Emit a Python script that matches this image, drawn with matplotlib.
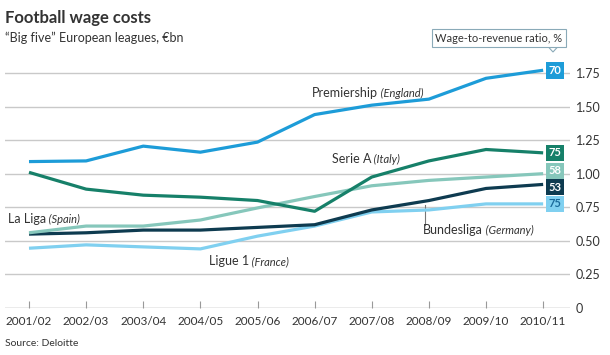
import matplotlib.pyplot as plt
from matplotlib.patches import Polygon

plt.rcParams['font.family'] = ['Lato', 'DejaVu Sans']

seasons = ["2001/02", "2002/03", "2003/04", "2004/05", "2005/06",
           "2006/07", "2007/08", "2008/09", "2009/10", "2010/11"]

premiership = [1.09, 1.095, 1.205, 1.16, 1.235, 1.44, 1.51, 1.555, 1.71, 1.77]
serie_a = [1.01, 0.885, 0.84, 0.825, 0.80, 0.72, 0.975, 1.095, 1.18, 1.155]
la_liga = [0.56, 0.61, 0.61, 0.655, 0.745, 0.83, 0.91, 0.95, 0.975, 1.0]
bundesliga = [0.55, 0.56, 0.58, 0.58, 0.60, 0.62, 0.73, 0.80, 0.89, 0.92]
ligue_1 = [0.445, 0.47, 0.455, 0.44, 0.535, 0.61, 0.715, 0.73, 0.775, 0.775]

ratios = {"premiership": "70", "serie_a": "75", "la_liga": "58",
          "bundesliga": "53", "ligue_1": "75"}

yticks = [0, 0.25, 0.5, 0.75, 1.0, 1.25, 1.5, 1.75]
ytick_labels = ["0", "0.25", "0.50", "0.75", "1.00", "1.25", "1.50", "1.75"]

c_prem = "#1d9cd8"
c_seri = "#168069"
c_liga = "#86c7bb"
c_bund = "#0e3b50"
c_lig1 = "#80d0f0"
txt = "#333333"
grid = "#c9c9c9"

fig = plt.figure(figsize=(6.1, 3.55), dpi=100)
ax = fig.add_axes([5 / 610, 1 - 308 / 355, 565 / 610, 248.5 / 355])

x = list(range(len(seasons)))
ax.set_xlim(-0.42, 9.47)
ax.set_ylim(0, 1.85)

for v in yticks[1:]:
    ax.axhline(v, color=grid, lw=1.0, zorder=1)
ax.axhline(0, color="#999999", lw=1.0, zorder=1)

for s in ax.spines.values():
    s.set_visible(False)

ax.yaxis.tick_right()
ax.set_yticks(yticks)
ax.set_yticklabels(ytick_labels)
ax.tick_params(axis="y", length=0, pad=4, labelsize=9, labelcolor=txt)

ax.set_xticks(x)
ax.set_xticklabels(seasons)
ax.tick_params(axis="x", direction="in", length=5, width=0.8, color="#999999",
               pad=6, labelsize=8.5, labelcolor=txt)

lw = 2.3
ax.plot(x, ligue_1, color=c_lig1, lw=lw, zorder=3, solid_capstyle="butt")
ax.plot(x, bundesliga, color=c_bund, lw=lw, zorder=3, solid_capstyle="butt")
ax.plot(x, la_liga, color=c_liga, lw=lw, zorder=3, solid_capstyle="butt")
ax.plot(x, serie_a, color=c_seri, lw=lw, zorder=4, solid_capstyle="butt")
ax.plot(x, premiership, color=c_prem, lw=lw, zorder=4, solid_capstyle="butt")


def label(xp, yp, name, country):
    t = ax.text(xp, yp, name, fontsize=9, color=txt, va="baseline", ha="left")
    ax.annotate(" (" + country + ")", xy=(1, 0), xycoords=t, va="bottom",
                ha="left", fontsize=8, style="italic", color=txt)


label(4.95, 1.57, "Premiership", "England")
label(5.3, 1.08, "Serie A", "Italy")
label(-0.37, 0.63, "La Liga", "Spain")
label(3.15, 0.32, "Ligue 1", "France")
label(6.9, 0.55, "Bundesliga", "Germany")
ax.plot([6.94, 6.94], [0.62, 0.765], color="#777777", lw=0.8, zorder=2)

# ratio badges at the end of each line
badges = [(premiership, ratios["premiership"], c_prem, "white", 0),
          (serie_a, ratios["serie_a"], c_seri, "white", 0),
          (la_liga, ratios["la_liga"], c_liga, "white", 2),
          (bundesliga, ratios["bundesliga"], c_bund, "white", -2),
          (ligue_1, ratios["ligue_1"], c_lig1, "#1a6a9a", 0)]
for vals, lab, bg, fg, dy in badges:
    ax.annotate(lab, xy=(x[-1], vals[-1]), xytext=(8.5, dy), textcoords="offset points",
                ha="center", va="center", fontsize=8, fontweight="bold", color=fg,
                bbox=dict(boxstyle="square,pad=0.25", fc=bg, ec="none"), zorder=6)

# callout box
fig.text(499 / 610, 1 - 38 / 355, "Wage-to-revenue ratio, %", ha="center", va="center",
         fontsize=8, color=txt,
         bbox=dict(boxstyle="square,pad=0.35", fc="white", ec="#8aaab8", lw=0.8))
tri = Polygon([[548 / 610, 1 - 46.5 / 355], [553 / 610, 1 - 52 / 355], [558 / 610, 1 - 46.5 / 355]],
              closed=False, transform=fig.transFigure, fc="white", ec="#8aaab8", lw=0.8)
fig.patches.append(tri)

fig.text(5 / 610, 1 - 18 / 355, "Football wage costs", fontsize=12, fontweight="bold",
         color=txt, va="center", ha="left")
fig.text(5 / 610, 1 - 38 / 355, "\u201cBig five\u201d European leagues, \u20acbn", fontsize=9,
         color=txt, va="center", ha="left")
fig.text(5 / 610, 1 - 344 / 355, "Source: Deloitte", fontsize=7.5, color=txt,
         va="center", ha="left")

fig.savefig("out.png", dpi=100)
